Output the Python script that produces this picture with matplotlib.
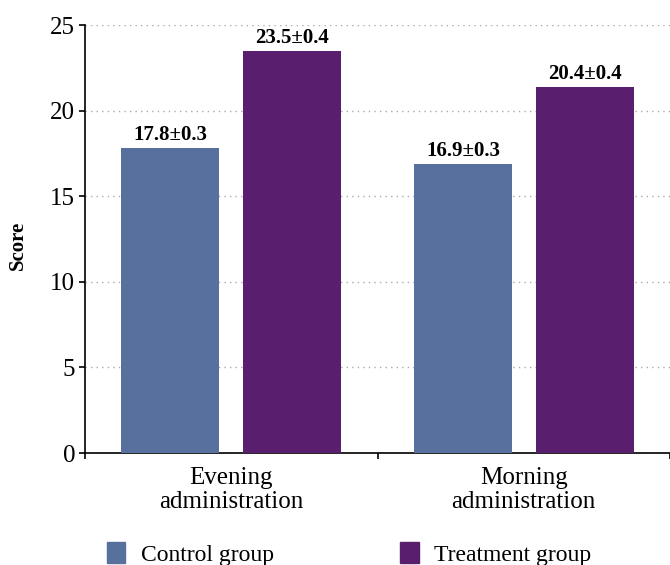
import numpy as np
import matplotlib.pyplot as plt
from matplotlib.patches import Patch

plt.rcParams['font.family'] = 'serif'
plt.rcParams['font.serif'] = ['Liberation Serif', 'DejaVu Serif']

# dados
categorias = ['Evening\nadministration', 'Morning\nadministration']
controle = [17.8, 16.9]
tratamento = [23.5, 21.4]
rotulos_controle = ['17.8±0.3', '16.9±0.3']
rotulos_tratamento = ['23.5±0.4', '20.4±0.4']
yticks = [0, 5, 10, 15, 20, 25]

cor_controle = '#58709E'
cor_tratamento = '#591E6E'

fig = plt.figure(figsize=(6.7, 5.65), dpi=100)
ax = fig.add_axes([85 / 670, 112 / 565, 1 - 85 / 670, 428 / 565])

x = np.arange(len(categorias))
w = 0.335
off = 0.208
b1 = ax.bar(x - off, controle, w, color=cor_controle, zorder=3)
b2 = ax.bar(x + off, tratamento, w, color=cor_tratamento, zorder=3)

# rótulos em cima das barras
for barras, rotulos in [(b1, rotulos_controle), (b2, rotulos_tratamento)]:
    for b, txt in zip(barras, rotulos):
        ax.annotate(txt, (b.get_x() + b.get_width() / 2, b.get_height()),
                    xytext=(0, 2), textcoords='offset points',
                    ha='center', va='bottom', fontsize=15, fontweight='bold')

ax.set_xlim(-0.5, 1.48)
ax.set_ylim(0, 25)
ax.set_yticks(yticks)
ax.tick_params(axis='y', labelsize=18, length=4, width=1.2, pad=3)
ax.set_xticks(x)
ax.set_xticklabels(categorias, fontsize=18, linespacing=1.15)
ax.set_xticks([-0.5, 0.5, 1.5], minor=True)
ax.tick_params(axis='x', which='major', length=0, pad=10)
ax.tick_params(axis='x', which='minor', length=4, width=1.2)

ax.yaxis.grid(True, linestyle=(0, (1, 3)), color='#aaaaaa', linewidth=1, zorder=0)
for s in ['top', 'right']:
    ax.spines[s].set_visible(False)
for s in ['left', 'bottom']:
    ax.spines[s].set_linewidth(1.2)

ax.set_ylabel('Score', fontsize=15, fontweight='bold')
ax.yaxis.set_label_coords(-0.097, 0.485)

handles = [Patch(color=cor_controle, label='Control group'),
           Patch(color=cor_tratamento, label='Treatment group')]
fig.legend(handles=handles, loc='center left', bbox_to_anchor=(107 / 670, 11 / 565),
           ncol=2, frameon=False, fontsize=17, handlelength=0.78, handleheight=1.0,
           handletextpad=0.65, columnspacing=5.35, borderpad=0, borderaxespad=0)

plt.savefig('out.png', dpi=100)
